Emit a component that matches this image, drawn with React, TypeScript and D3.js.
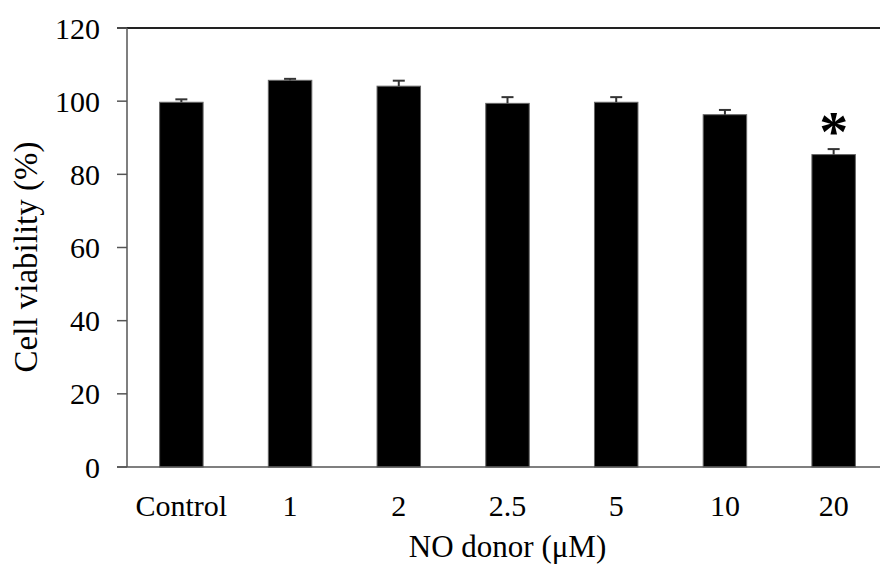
import React from "react";
import * as d3 from "d3";

const categories = ["Control", "1", "2", "2.5", "5", "10", "20"];
const viability = [99.7, 105.7, 104.1, 99.4, 99.7, 96.3, 85.4];
const errors = [0.8, 0.4, 1.5, 1.7, 1.4, 1.3, 1.5];
const significant = [false, false, false, false, false, false, true];
const yTicks = [0, 20, 40, 60, 80, 100, 120];

const W = 880;
const H = 567;
const left = 127;
const right = 888;
const top = 28;
const bottom = 467;
const font = "'Liberation Serif', 'Times New Roman', serif";

export default function App() {
  const x = d3.scaleBand<string>().domain(categories).range([left, right]).paddingInner(0.6).paddingOuter(0.3);
  const y = d3.scaleLinear().domain([0, 120]).range([bottom, top]);
  const axisColor = "#555";
  return (
    <svg width={W} height={H} style={{ position: "absolute", left: 0, top: 0, background: "#fff" }}>
      {/* top border line */}
      <line x1={117} x2={W} y1={y(120)} y2={y(120)} stroke="#222" strokeWidth={2} />
      {/* bars */}
      {categories.map((c, i) => (
        <rect key={c} x={x(c)} y={y(viability[i])} width={x.bandwidth()} height={y(0) - y(viability[i])} fill="#000" stroke="#666" strokeWidth={1} />
      ))}
      {/* error bars */}
      {categories.map((c, i) => {
        const cx = (x(c) as number) + x.bandwidth() / 2;
        const yt = y(viability[i] + errors[i]);
        return (
          <g key={"e" + c} stroke="#333" strokeWidth={2}>
            <line x1={cx} x2={cx} y1={y(viability[i])} y2={yt} />
            <line x1={cx - 6} x2={cx + 6} y1={yt} y2={yt} />
          </g>
        );
      })}
      {/* significance */}
      {categories.map((c, i) =>
        significant[i] ? (
          <text key={"s" + c} x={(x(c) as number) + x.bandwidth() / 2} y={y(viability[i] + errors[i]) + 2} textAnchor="middle" fontFamily={font} fontSize={58} fontWeight="bold" fill="#000">
            *
          </text>
        ) : null
      )}
      {/* y axis */}
      <line x1={left} x2={left} y1={top} y2={bottom} stroke={axisColor} strokeWidth={1.5} />
      <line x1={117} x2={W} y1={bottom} y2={bottom} stroke={axisColor} strokeWidth={1.5} />
      {yTicks.map((t) => (
        <g key={"t" + t}>
          <line x1={117} x2={left} y1={y(t)} y2={y(t)} stroke={axisColor} strokeWidth={1.5} />
          <text x={100} y={y(t)} dy="0.35em" textAnchor="end" fontFamily={font} fontSize={30} fill="#000">
            {t}
          </text>
        </g>
      ))}
      {/* x tick labels */}
      {categories.map((c) => (
        <text key={"x" + c} x={(x(c) as number) + x.bandwidth() / 2} y={516} textAnchor="middle" fontFamily={font} fontSize={30} fill="#000">
          {c}
        </text>
      ))}
      <text x={(left + right) / 2} y={557} textAnchor="middle" fontFamily={font} fontSize={31} fill="#000">
        NO donor (μM)
      </text>
      <text transform={`translate(37,257) rotate(-90)`} textAnchor="middle" fontFamily={font} fontSize={33} fill="#000">
        Cell viability (%)
      </text>
    </svg>
  );
}
